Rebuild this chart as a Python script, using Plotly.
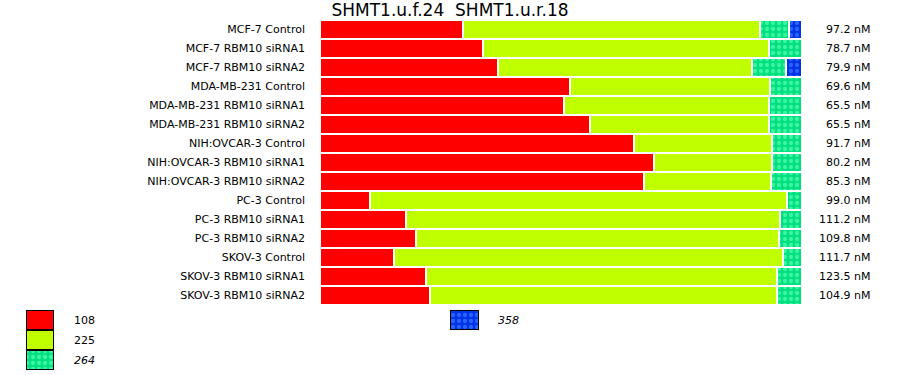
import plotly.graph_objects as go

# ---------------- data ----------------
categories = [
    "MCF-7 Control", "MCF-7 RBM10 siRNA1", "MCF-7 RBM10 siRNA2",
    "MDA-MB-231 Control", "MDA-MB-231 RBM10 siRNA1", "MDA-MB-231 RBM10 siRNA2",
    "NIH:OVCAR-3 Control", "NIH:OVCAR-3 RBM10 siRNA1", "NIH:OVCAR-3 RBM10 siRNA2",
    "PC-3 Control", "PC-3 RBM10 siRNA1", "PC-3 RBM10 siRNA2",
    "SKOV-3 Control", "SKOV-3 RBM10 siRNA1", "SKOV-3 RBM10 siRNA2",
]
pct_108 = [29.7, 33.8, 36.9, 51.9, 50.6, 56.0, 65.1, 69.3, 67.2, 10.4, 17.8, 19.9, 15.4, 22.0, 22.8]
pct_225 = [61.6, 59.3, 52.7, 41.5, 42.5, 37.1, 28.6, 24.5, 26.3, 86.5, 77.6, 75.3, 80.7, 72.8, 72.0]
pct_264 = [6.0, 6.8, 7.1, 6.6, 6.8, 6.8, 6.2, 6.2, 6.4, 3.1, 4.6, 4.8, 3.9, 5.2, 5.2]
pct_358 = [2.7, None, 3.3, None, None, None, None, None, None, None, None, None, None, None, None]
concentrations = ["97.2 nM", "78.7 nM", "79.9 nM", "69.6 nM", "65.5 nM", "65.5 nM", "91.7 nM",
                  "80.2 nM", "85.3 nM", "99.0 nM", "111.2 nM", "109.8 nM", "111.7 nM",
                  "123.5 nM", "104.9 nM"]
title_text = "SHMT1.u.f.24  SHMT1.u.r.18"
series_names = ["108", "225", "264", "358"]
series_values = [pct_108, pct_225, pct_264, pct_358]

# ---------------- styles ----------------
W, H = 900, 375
FONT = "DejaVu Sans"
styles = {
    "108": dict(color="#FF0000"),
    "225": dict(color="#C0FF00"),
    "264": dict(color="#00E080",
                pattern=dict(shape=".", fgcolor="#3CF5A0", bgcolor="#00E080",
                             size=6, solidity=0.4, fillmode="replace")),
    "358": dict(color="#0033E6",
                pattern=dict(shape=".", fgcolor="#2A62FF", bgcolor="#0033E6",
                             size=6, solidity=0.4, fillmode="replace")),
}
italic = {"108": False, "225": False, "264": True, "358": True}

fig = go.Figure()
for name, vals in zip(series_names, series_values):
    st = styles[name]
    marker = dict(color=st["color"], line=dict(color="white", width=2))
    if "pattern" in st:
        marker["pattern"] = st["pattern"]
    fig.add_trace(go.Bar(y=categories, x=vals, orientation="h", name=name,
                         marker=marker, showlegend=False, hoverinfo="skip"))

# right-hand concentration labels
for cat, c in zip(categories, concentrations):
    fig.add_annotation(x=872 / W, xref="paper", y=cat, yref="y", text=c,
                       showarrow=False, xanchor="right", yanchor="middle",
                       font=dict(family=FONT, size=11, color="#000"))

# legend drawn as bars on an overlay pixel axis
legend_pos = {"108": (26.5, 320.5), "225": (26.5, 340.5), "264": (26.5, 360.5), "358": (451, 320.5)}
for name in series_names:
    st = styles[name]
    x0, yc = legend_pos[name]
    marker = dict(color=st["color"], line=dict(color="black", width=1))
    if "pattern" in st:
        marker["pattern"] = st["pattern"]
    fig.add_trace(go.Bar(y=[yc], x=[27.5], base=[x0], width=[19], orientation="h",
                         xaxis="x2", yaxis="y2", marker=marker, showlegend=False,
                         hoverinfo="skip"))
    txt = f"<i>{name}</i>" if italic[name] else name
    fig.add_annotation(x=x0 + 45, y=yc, xref="x2", yref="y2", text=txt, showarrow=False,
                       xanchor="left", yanchor="middle",
                       font=dict(family=FONT, size=11, color="#000"))

fig.update_layout(
    width=W, height=H,
    margin=dict(l=0, r=0, t=0, b=0),
    paper_bgcolor="white", plot_bgcolor="rgba(0,0,0,0)",
    barmode="stack", bargap=0,
    title=dict(text=title_text, x=0.5, xanchor="center", y=1 - 10 / H, yanchor="middle",
               font=dict(family=FONT, size=17, color="#000")),
    font=dict(family=FONT, size=11, color="#000"),
    xaxis=dict(domain=[320 / W, 802 / W], range=[0, 100], visible=False, fixedrange=True),
    yaxis=dict(domain=[1 - 305 / H, 1 - 20 / H], autorange="reversed", showgrid=False,
               zeroline=False, showline=False, ticks="", ticklabelstandoff=14,
               tickfont=dict(family=FONT, size=11, color="#000"), fixedrange=True),
    xaxis2=dict(domain=[0, 1], range=[0, W], visible=False, anchor="y2", fixedrange=True),
    yaxis2=dict(domain=[0, 1], range=[H, 0], visible=False, anchor="x2", fixedrange=True),
)

fig.write_html("out.html", config={"displayModeBar": False},
               post_script="document.body.style.margin='0px';document.body.style.overflow='hidden';")
